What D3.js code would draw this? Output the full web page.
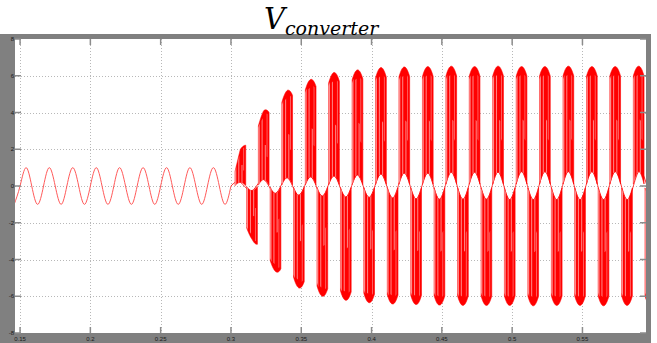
<!DOCTYPE html>
<html>
<head>
<meta charset="utf-8">
<script src="https://cdn.jsdelivr.net/npm/d3@7"></script>
<style>
  html, body { margin: 0; padding: 0; background: #fff; }
  svg { display: block; }
</style>
</head>
<body>
<svg id="chart" width="657" height="343"></svg>
<script>
// Axis ticks
const xTicks = [0.15, 0.2, 0.25, 0.3, 0.35, 0.4, 0.45, 0.5, 0.55];
const xTickLabels = ["0.15", "0.2", "0.25", "0.3", "0.35", "0.4", "0.45", "0.5", "0.55"];
const yTicks = [-8, -6, -4, -2, 0, 2, 4, 6, 8];
const yTickLabels = ["-8", "-6", "-4", "-2", "0", "2", "4", "6", "8"];

// Grid voltage before the converter starts switching (extrema and zero crossings, 60 Hz)
const sineT = [0.1458, 0.15, 0.1542, 0.1583, 0.1625, 0.1667, 0.1708, 0.1750, 0.1792,
  0.1833, 0.1875, 0.1917, 0.1958, 0.2000, 0.2042, 0.2083, 0.2125, 0.2167, 0.2208,
  0.2250, 0.2292, 0.2333, 0.2375, 0.2417, 0.2458, 0.2500, 0.2542, 0.2583, 0.2625,
  0.2667, 0.2708, 0.2750, 0.2792, 0.2833, 0.2875, 0.2917, 0.2958, 0.3000];
const sineV = [-1, 0, 1, 0, -1, 0, 1, 0, -1,
  0, 1, 0, -1, 0, 1, 0, -1, 0, 1,
  0, -1, 0, 1, 0, -1, 0, 1, 0, -1,
  0, 1, 0, -1, 0, 1, 0, -1, 0];

// Switching bursts after t = 0.3 s: centre time, envelope value (signed),
// and amplitude of the low-level ripple the pulses sit on
const burstT = [0.3067, 0.3150, 0.3233, 0.3317, 0.3400, 0.3483, 0.3567, 0.3650, 0.3733,
  0.3817, 0.3900, 0.3983, 0.4067, 0.4150, 0.4233, 0.4317, 0.4400, 0.4483, 0.4567,
  0.4650, 0.4733, 0.4817, 0.4900, 0.4983, 0.5067, 0.5150, 0.5233, 0.5317, 0.5400,
  0.5483, 0.5567, 0.5650, 0.5733, 0.5817, 0.5900, 0.5983];
const burstPeak = [2.0, -2.9, 4.1, -4.65, 5.2, -5.55, 5.8, -6.0, 6.18,
  -6.22, 6.32, -6.35, 6.45, -6.42, 6.48, -6.45, 6.5, -6.48, 6.52,
  -6.5, 6.5, -6.5, 6.52, -6.5, 6.5, -6.52, 6.5, -6.5, 6.52,
  -6.5, 6.5, -6.52, 6.5, -6.5, 6.52, -6.5];
const burstRipple = [0.2, 0.25, 0.35, 0.4, 0.45, 0.5, 0.5, 0.55, 0.55,
  0.6, 0.6, 0.62, 0.65, 0.65, 0.7, 0.7, 0.7, 0.72, 0.75,
  0.72, 0.75, 0.72, 0.75, 0.74, 0.78, 0.74, 0.78, 0.74, 0.78,
  0.74, 0.78, 0.74, 0.78, 0.74, 0.78, 0.74];
const switchOn = 0.3;
const burstHalfWidth = 0.0038;   // half of the switching window, s
const halfPeriod = 1 / 120;      // 60 Hz

// Layout
const W = 657, H = 343;
const plot = { left: 15, right: 646, top: 39, bottom: 333 };
const frameGray = "#808080";

const svg = d3.select("#chart");

const x = d3.scaleLinear().domain([0.1464, 0.5952]).range([plot.left, plot.right]);
const y = d3.scaleLinear().domain([-8, 8]).range([plot.bottom, plot.top]);

// Outer grey scope frame
svg.append("rect").attr("x", 0).attr("y", 34).attr("width", 651).attr("height", H - 34)
  .attr("fill", frameGray);
svg.append("rect").attr("x", plot.left).attr("y", plot.top)
  .attr("width", plot.right - plot.left).attr("height", plot.bottom - plot.top)
  .attr("fill", "#fff");

// Title
const title = svg.append("text")
  .attr("x", 264).attr("y", 29)
  .attr("font-family", "'DejaVu Serif', serif")
  .attr("font-style", "italic")
  .attr("fill", "#000");
title.append("tspan").attr("font-size", 29).text("V");
title.append("tspan").attr("font-size", 19).attr("dy", 6).text("converter");

// Grid
const grid = svg.append("g").attr("stroke", "#b8b8b8").attr("stroke-width", 1)
  .attr("stroke-dasharray", "1,2").attr("shape-rendering", "crispEdges");
grid.selectAll("line.v").data(xTicks).join("line").attr("class", "v")
  .attr("x1", d => Math.round(x(d)) + 0.5).attr("x2", d => Math.round(x(d)) + 0.5)
  .attr("y1", plot.top).attr("y2", plot.bottom);
grid.selectAll("line.h").data(yTicks.filter(d => d > -8 && d < 8)).join("line").attr("class", "h")
  .attr("y1", d => Math.round(y(d)) + 0.5).attr("y2", d => Math.round(y(d)) + 0.5)
  .attr("x1", plot.left).attr("x2", plot.right);

// Signal layer, clipped to the plotting area
svg.append("clipPath").attr("id", "plotClip").append("rect")
  .attr("x", plot.left).attr("y", plot.top)
  .attr("width", plot.right - plot.left).attr("height", plot.bottom - plot.top);
const sig = svg.append("g").attr("clip-path", "url(#plotClip)");

// Sine before switching
const sinePts = sineT.map((t, i) => [t, sineV[i]]);
sig.append("path")
  .attr("d", d3.line().x(d => x(d[0])).y(d => y(d[1])).curve(d3.curveNatural)(sinePts))
  .attr("fill", "none").attr("stroke", "#ff5a5a").attr("stroke-width", 1);

// Envelope of the switched voltage, linear between bursts
const env = d3.scaleLinear()
  .domain([switchOn + 0.0005, ...burstT])
  .range([0.15, ...burstPeak.map(Math.abs)])
  .clamp(true);

// Low-level ripple line after switching starts
const ripplePts = [[switchOn, 0], ...burstT.map((t, i) => [t, Math.sign(burstPeak[i]) * burstRipple[i]])];
sig.append("path")
  .attr("d", d3.line().x(d => x(d[0])).y(d => y(d[1])).curve(d3.curveNatural)(ripplePts))
  .attr("fill", "none").attr("stroke", "#ff3030").attr("stroke-width", 1);

// One switching burst: filled between ripple (inner edge) and envelope cap (outer edge)
const uSteps = d3.range(-1, 1.0001, 0.05);
function burstShape(i, u0, u1, f0, f1) {
  const c = burstT[i], s = Math.sign(burstPeak[i]), a = burstRipple[i];
  return uSteps.filter(u => u >= u0 - 1e-9 && u <= u1 + 1e-9).map(u => {
    const t = c + u * burstHalfWidth;
    const hi = s * env(t) * (1 - 0.08 * u * u);
    const lo = s * a * Math.cos((u * burstHalfWidth / halfPeriod) * Math.PI);
    return { t, a: lo + f0 * (hi - lo), b: lo + f1 * (hi - lo) };
  });
}
const area = d3.area().x(d => x(d.t)).y0(d => y(d.a)).y1(d => y(d.b));

// Lighter vertical streaks where the pulses are sparse
const streaks = [
  { u0: -1.0, u1: -0.75, f0: 0.0, f1: 0.97, o: 0.55 },
  { u0: -0.4, u1: -0.2, f0: 0.0, f1: 0.92, o: 0.5 },
  { u0: 0.2, u1: 0.4, f0: 0.0, f1: 0.5, o: 0.5 },
  { u0: 0.55, u1: 0.7, f0: 0.35, f1: 0.95, o: 0.45 }
];

burstT.forEach((t, i) => {
  const g = sig.append("g");
  g.append("path").attr("d", area(burstShape(i, -1, 1, 0, 1)))
    .attr("fill", "#ff0000").attr("stroke", "#ff0000").attr("stroke-width", 0.6);
  streaks.forEach(st => {
    g.append("path").attr("d", area(burstShape(i, st.u0, st.u1, st.f0, st.f1)))
      .attr("fill", "#ffffff").attr("opacity", st.o);
  });
});

// Tick marks on all four sides
const ticks = svg.append("g").attr("stroke", "#8c8c8c").attr("stroke-width", 1.5);
xTicks.forEach(d => {
  const px = x(d);
  ticks.append("line").attr("x1", px).attr("x2", px).attr("y1", plot.bottom).attr("y2", plot.bottom - 6);
  ticks.append("line").attr("x1", px).attr("x2", px).attr("y1", plot.top).attr("y2", plot.top + 6);
});
yTicks.forEach(d => {
  const py = y(d);
  ticks.append("line").attr("x1", plot.left).attr("x2", plot.left + 6).attr("y1", py).attr("y2", py);
  ticks.append("line").attr("x1", plot.right).attr("x2", plot.right - 6).attr("y1", py).attr("y2", py);
});

// Tick labels inside the grey frame
const lab = svg.append("g").attr("font-family", "'Liberation Sans', Arial, sans-serif")
  .attr("font-size", 6).attr("fill", "#1a1a1a");
xTicks.forEach((d, i) => {
  lab.append("text").attr("x", x(d)).attr("y", plot.bottom + 7.5)
    .attr("text-anchor", "middle").text(xTickLabels[i]);
});
yTicks.forEach((d, i) => {
  lab.append("text").attr("x", plot.left - 1).attr("y", y(d) + 2)
    .attr("text-anchor", "end").text(yTickLabels[i]);
});
</script>
</body>
</html>
